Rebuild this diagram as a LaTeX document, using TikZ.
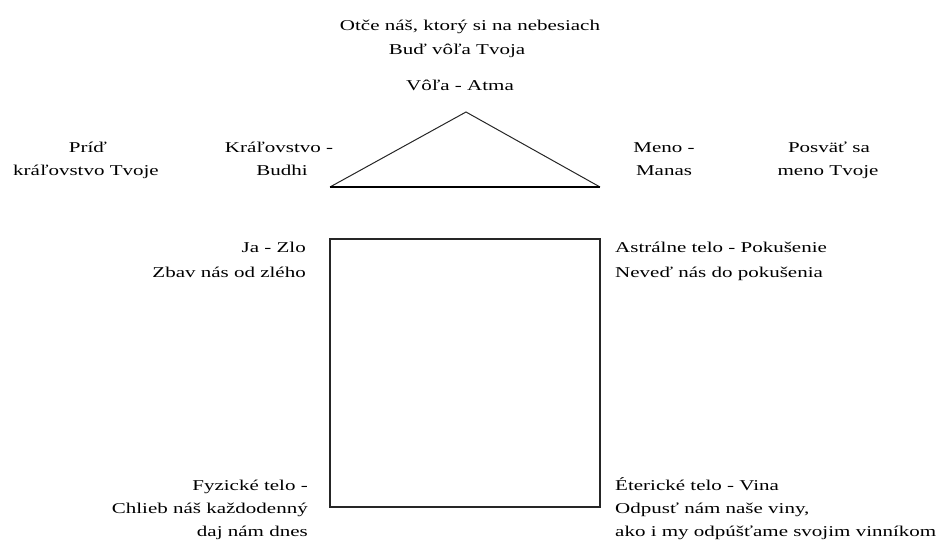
\documentclass[tikz,border=0pt]{standalone}
\usepackage{fontspec}
\setmainfont{Liberation Serif}[FakeStretch=1.4]
\begin{document}
\begin{tikzpicture}[x=1pt,y=-1pt,
  txt/.style={inner sep=0pt,font=\fontsize{15}{23}\selectfont,text=black},
  lw/.style={txt,anchor=base west},
  le/.style={txt,anchor=base east},
  lc/.style={txt,anchor=base},
  sqline/.style={draw=black!85,line width=1.3pt,line join=miter}]
\useasboundingbox (0,0) rectangle (940,548);
% triangle
\coordinate (apex) at (466,112);
\coordinate (bl) at (330,187);
\coordinate (br) at (600,187);
\draw[draw=black!85,line width=1pt] (bl) -- (apex) -- (br);
\draw[draw=black,line width=1.5pt] (bl) -- (br);
% square
\coordinate (sq1) at (330,239);
\coordinate (sq2) at (600,507);
\draw[sqline] (sq1) rectangle (sq2);
% top texts
\node[lc] (t1) at (470,31) {Otče náš, ktorý si na nebesiach};
\node[lc] (t2) at (457,55) {Buď vôľa Tvoja};
\node[lc] (t3) at (460,91) {Vôľa - Atma};
% left upper
\node[lc] (p1) at (88,153) {Príď};
\node[lc] (p2) at (86,176) {kráľovstvo Tvoje};
\node[lc] (k1) at (279,153) {Kráľovstvo -};
\node[lc] (k2) at (282,176) {Budhi};
% right upper
\node[lc] (m1) at (664,153) {Meno -};
\node[lc] (m2) at (664,176) {Manas};
\node[lc] (s1) at (829,153) {Posväť sa};
\node[lc] (s2) at (828,176) {meno Tvoje};
% square corners
\node[le] (j1) at (306,253) {Ja - Zlo};
\node[le] (j2) at (306,277) {Zbav nás od zlého};
\node[lw] (a1) at (615,253) {Astrálne telo - Pokušenie};
\node[lw] (a2) at (615,277) {Neveď nás do pokušenia};
\node[le] (f1) at (308,490) {Fyzické telo -};
\node[le] (f2) at (308,513) {Chlieb náš každodenný};
\node[le] (f3) at (308,536) {daj nám dnes};
\node[lw] (e1) at (615,490) {Éterické telo - Vina};
\node[lw] (e2) at (615,513) {Odpusť nám naše viny,};
\node[lw] (e3) at (615,536) {ako i my odpúšťame svojim vinníkom};
\end{tikzpicture}
\end{document}
